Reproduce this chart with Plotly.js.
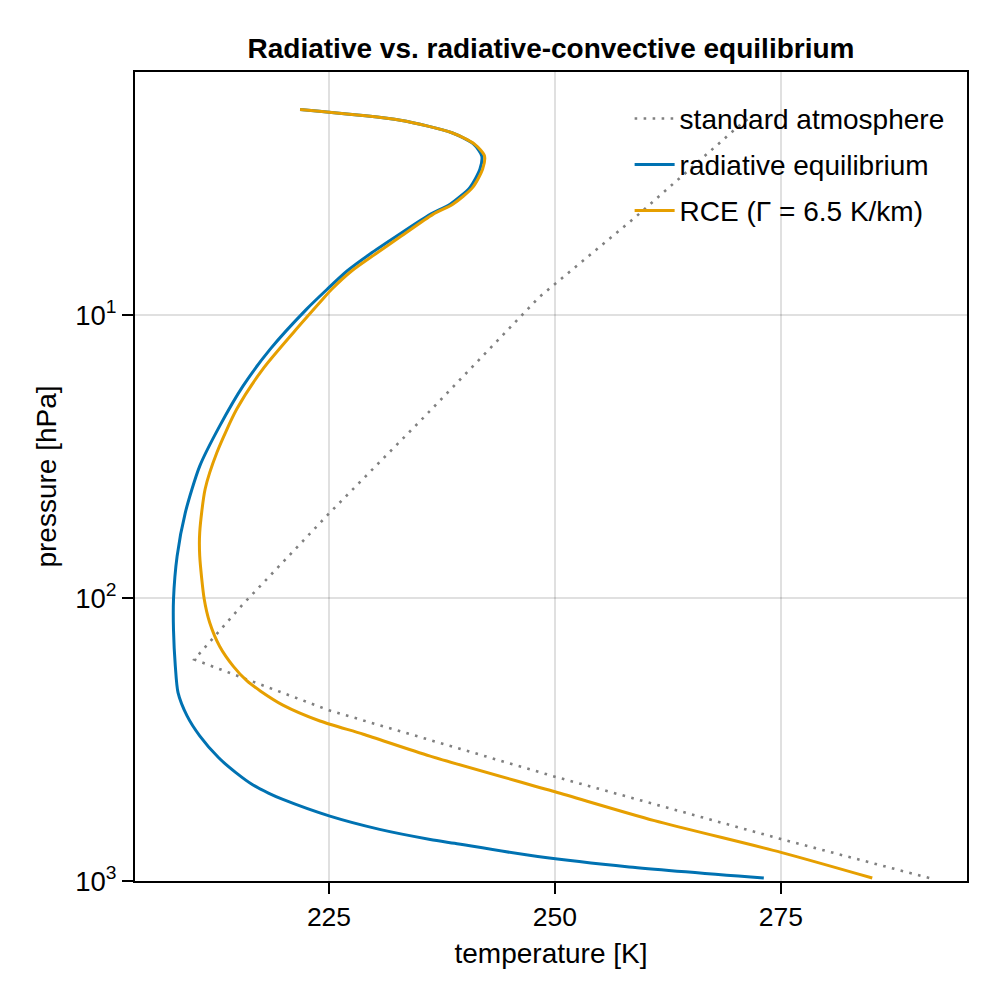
<!DOCTYPE html>
<html>
<head>
<meta charset="utf-8">
<script src="https://cdn.plot.ly/plotly-3.0.1.min.js"></script>
<style>
  html, body { margin: 0; padding: 0; background: #ffffff; }
  #chart { width: 1000px; height: 1000px; }
</style>
</head>
<body>
<div id="chart"></div>
<script>
// Temperature profiles (K) on pressure levels (hPa)

// Standard atmosphere
const stdTemp = [291.4, 275.0, 250.0, 235.8, 225.1, 210.1, 215.5, 218.1, 225.1, 235.6, 248.3, 259.0, 270.1, 271.6];
const stdPres = [976, 711, 428, 315, 250, 165, 105, 85.9, 49.9, 22.8, 8.62, 4.48, 2.18, 2.0];

// Pure radiative equilibrium
const radTemp = [221.8, 232.9, 238.6, 241.0, 241.9, 241.7, 240.6, 238.4, 236.2, 232.5, 229.5, 227.0, 224.8, 222.5, 218.5, 215.5, 212.9, 210.7, 209.1, 208.2, 207.8, 207.8, 208.0, 208.3, 209.3, 210.7, 212.8, 214.7, 216.6, 218.3, 219.9, 225.1, 230.6, 236.2, 238.9, 248.1, 258.2, 273.1];
const radPres = [1.88, 2.05, 2.27, 2.49, 2.74, 3.05, 3.54, 4.06, 4.41, 5.26, 6.10, 6.99, 8.11, 9.55, 13.2, 17.8, 24.7, 34.2, 50.0, 71.1, 101, 130, 174, 216, 261, 307, 367, 414, 458, 489, 515, 590, 657, 713, 736, 820, 892, 976];

// Radiative-convective equilibrium with a 6.5 K/km lapse rate
const rceTemp = [221.8, 232.9, 238.6, 241.1, 242.2, 242.0, 240.9, 238.7, 236.5, 233.0, 230.1, 227.5, 225.3, 224.3, 221.1, 217.7, 214.8, 212.6, 211.3, 210.7, 210.7, 211.2, 211.8, 212.9, 214.4, 215.9, 217.4, 219.9, 224.0, 228.8, 236.2, 250.0, 261.0, 275.0, 285.1];
const rcePres = [1.88, 2.05, 2.27, 2.49, 2.74, 3.05, 3.54, 4.06, 4.41, 5.26, 6.10, 6.99, 8.11, 8.80, 11.5, 15.5, 21.5, 30.6, 41.2, 58.6, 71.0, 101, 122, 148, 174, 196, 213, 239, 272, 303, 362, 484, 612, 792, 976];

const seriesNames = ['standard atmosphere', 'radiative equilibrium', 'RCE (Γ = 6.5 K/km)'];

const xTicks = [225, 250, 275];
const yTicks = [10, 100, 1000];
const yTickText = ['10<sup>1</sup>', '10<sup>2</sup>', '10<sup>3</sup>'];

const FONT = 'Liberation Sans, Arial, Helvetica, sans-serif';
const TICK_FS = 26.5;
const LABEL_FS = 28;

const traces = [
  {
    x: stdTemp, y: stdPres, name: seriesNames[0], legendgroup: 'a',
    type: 'scatter', mode: 'lines',
    line: { color: 'rgb(128,128,128)', width: 2.6, dash: '2.6px,6.4px' }
  },
  {
    x: radTemp, y: radPres, name: seriesNames[1], legendgroup: 'b',
    type: 'scatter', mode: 'lines',
    line: { color: 'rgb(0,114,178)', width: 3, shape: 'spline', smoothing: 0.7 }
  },
  {
    x: rceTemp, y: rcePres, name: seriesNames[2], legendgroup: 'c',
    type: 'scatter', mode: 'lines',
    line: { color: 'rgb(230,159,0)', width: 3, shape: 'spline', smoothing: 0.7 }
  }
];

const axisCommon = {
  showline: true, linecolor: '#000000', linewidth: 2, mirror: true,
  ticks: 'outside', ticklen: 11, tickwidth: 2, tickcolor: '#000000',
  showgrid: true, gridcolor: 'rgba(0,0,0,0.12)', gridwidth: 2,
  zeroline: false,
  tickfont: { family: FONT, size: TICK_FS, color: '#000000' }
};

const layout = {
  width: 1000, height: 1000,
  margin: { l: 135, r: 33, t: 72, b: 119, pad: 0 },
  paper_bgcolor: '#ffffff', plot_bgcolor: '#ffffff',
  font: { family: FONT, size: LABEL_FS, color: '#000000' },
  title: {
    text: '<b>Radiative vs. radiative-convective equilibrium</b>',
    font: { family: FONT, size: 28, color: '#000000' },
    x: 0.5, xref: 'paper', xanchor: 'center',
    y: 0.952, yref: 'container', yanchor: 'middle'
  },
  xaxis: Object.assign({}, axisCommon, {
    range: [203.54, 295.58],
    tickmode: 'array', tickvals: xTicks,
    title: { text: 'temperature [K]', font: { family: FONT, size: LABEL_FS, color: '#000000' }, standoff: 13 }
  }),
  yaxis: Object.assign({}, axisCommon, {
    type: 'log',
    range: [3, 0.1413],
    tickmode: 'array', tickvals: yTicks, ticktext: yTickText,
    tickfont: { family: FONT, size: 27.5, color: '#000000' },
    title: { text: 'pressure [hPa]', font: { family: FONT, size: LABEL_FS, color: '#000000' }, standoff: 10 }
  }),
  showlegend: true,
  legend: {
    x: 0.5945, xanchor: 'left', xref: 'paper',
    y: 0.973, yanchor: 'top', yref: 'paper',
    bgcolor: 'rgba(0,0,0,0)', borderwidth: 0,
    traceorder: 'grouped', tracegroupgap: 6.6,
    itemwidth: 40,
    font: { family: FONT, size: LABEL_FS, color: '#000000' }
  }
};

Plotly.newPlot('chart', traces, layout, { displayModeBar: false, staticPlot: true });
</script>
</body>
</html>
